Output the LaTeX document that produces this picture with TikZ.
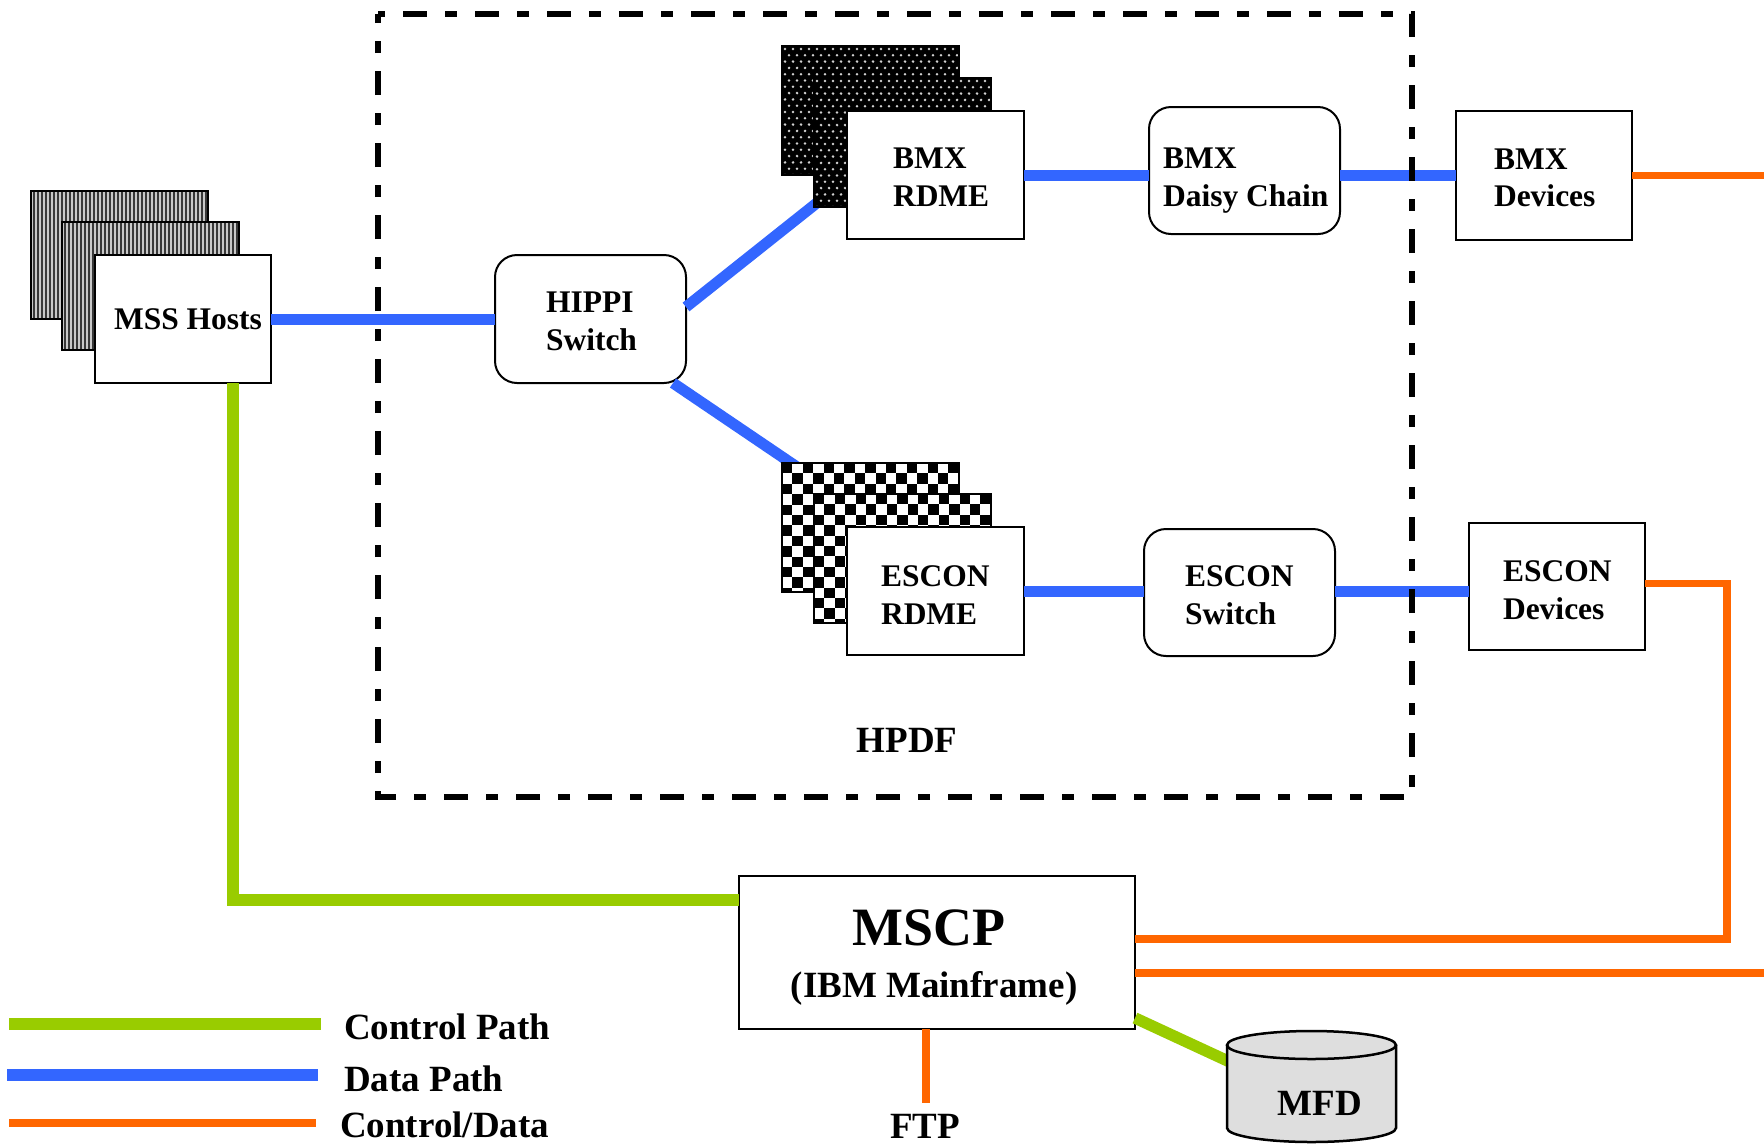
\documentclass[tikz,border=0pt]{standalone}
\usepackage{fontspec}
\setmainfont{Liberation Serif}
\usetikzlibrary{calc}
\definecolor{dblue}{HTML}{3366FF}
\definecolor{cgreen}{HTML}{99CC00}
\definecolor{corange}{HTML}{FF6600}
\definecolor{mfdgray}{HTML}{DEDEDE}
\definecolor{stripedark}{HTML}{383838}
\definecolor{stripelight}{HTML}{C8C8C8}
\definecolor{dotlight}{HTML}{D0D0D0}
\begin{document}
\begin{tikzpicture}[x=1pt,y=-1pt,
  box/.style={draw, line width=2pt, fill=white, inner sep=0pt, outer sep=0pt},
  rbox/.style={box, rounded corners=22pt},
  boxtext/.style={inner sep=0pt, outer sep=0pt, align=left, anchor=north west,
    font=\bfseries\fontsize{31.5}{37.5}\selectfont},
  datap/.style={draw=dblue, line width=11pt},
  ctrlp/.style={draw=cgreen, line width=11.5pt},
  cdp/.style={draw=corange, line width=7.5pt},
  lbl/.style={inner sep=0pt, font=\bfseries\fontsize{37}{44}\selectfont},
  stackedge/.style={draw, line width=2.5pt},
  hpdfbox/.style={draw, line width=6pt, dash pattern=on 24pt off 18pt on 12pt off 18pt, dash phase=47pt}
]
\useasboundingbox (0,0) rectangle (1764,1144);

% HIPPI switch first (its lines run under the RDME stacks)
\node[rbox, minimum width=191pt, minimum height=128pt] (hippi) at (590.5,319) {};
\node[boxtext] (hippit) at (546,292) {HIPPI\\Switch};
\coordinate (bmxback) at (830,192.5);
\coordinate (escback) at (800,469);
\draw[datap] ([yshift=12pt]hippi.east) -- (bmxback);
\draw[datap] ([xshift=-13pt]hippi.south east) -- (escback);

% MSS Hosts stack (vertical stripes)
\foreach \ax/\ay in {31/191, 62/222}{
  \begin{scope}
    \clip (\ax,\ay) rectangle ++(177,128);
    \fill[stripedark] (\ax,\ay) rectangle ++(177,128);
    \foreach \k in {0,...,44} \draw[stripelight, line width=1.6pt] (\ax+1+\k*4,\ay) -- ++(0,128);
  \end{scope}
  \draw[stackedge] (\ax,\ay) rectangle ++(177,128);
}
\node[box, minimum width=176pt, minimum height=128pt] (mss) at (183,319) {};
\node[inner sep=0pt, anchor=base, font=\bfseries\fontsize{31.5}{37.5}\selectfont] (msst) at (188,329) {MSS Hosts};

% BMX RDME stack (dots)
\foreach \ax/\ay in {782/46, 814/78}{
  \begin{scope}
    \clip (\ax,\ay) rectangle ++(177,129);
    \fill[black] (\ax,\ay) rectangle ++(177,129);
    \foreach \j in {0,...,20}{
      \pgfmathsetmacro{\off}{mod(\j,2)*4}
      \foreach \i in {0,...,22}{
        \fill[dotlight] (\ax+3+\off+\i*8, \ay+3+\j*6.3) circle (1.4pt);
      }
    }
  \end{scope}
  \draw[stackedge] (\ax,\ay) rectangle ++(177,129);
}
\node[box, minimum width=177pt, minimum height=128pt] (bmxr) at (935.5,175) {};
\node[boxtext] (bmxrt) at (893,148) {BMX\\RDME};

% ESCON RDME stack (checkerboard)
\foreach \ax/\ay in {782/463, 814/494}{
  \begin{scope}
    \clip (\ax,\ay) rectangle ++(177,129);
    \fill[white] (\ax,\ay) rectangle ++(177,129);
    \foreach \j in {0,...,12}{
      \pgfmathsetmacro{\off}{mod(\j,2)*10.4}
      \foreach \i in {0,...,8}{
        \fill[black] (\ax+\off+\i*20.8, \ay+\j*10.4) rectangle ++(10.4,10.4);
      }
    }
  \end{scope}
  \draw[stackedge] (\ax,\ay) rectangle ++(177,129);
}
\node[box, minimum width=177pt, minimum height=128pt] (escr) at (935.5,591) {};
\node[boxtext] (escrt) at (881,566) {ESCON\\RDME};

% other boxes
\node[rbox, minimum width=191pt, minimum height=127pt] (daisy) at (1244.5,170.5) {};
\node[boxtext] (daisyt) at (1163,148) {BMX\\Daisy Chain};
\node[box, minimum width=176pt, minimum height=129pt] (bmxdev) at (1544,175.5) {};
\node[boxtext] (bmxdevt) at (1494,148.5) {BMX\\Devices};
\node[rbox, minimum width=191pt, minimum height=127pt] (escsw) at (1239.5,592.5) {};
\node[boxtext] (escswt) at (1185,566) {ESCON\\Switch};
\node[box, minimum width=176pt, minimum height=127pt] (escdev) at (1557,586.5) {};
\node[boxtext] (escdevt) at (1503,561) {ESCON\\Devices};
\node[box, minimum width=396pt, minimum height=153pt] (mscp) at (937,952.5) {};
\node[anchor=base, inner sep=0pt, font=\bfseries\fontsize{54}{60}\selectfont] (mscpname) at (929,945) {MSCP};
\node[lbl, anchor=base] (mscpsub) at (934,997) {(IBM Mainframe)};

% data path connectors
\draw[datap] (mss.east) -- (hippi.west);
\draw[datap] (bmxr.east) -- (bmxr.east -| daisy.west);
\draw[datap] (daisy.east |- bmxr.east) -- (bmxdev.west |- bmxr.east);
\draw[datap] (escr.east) -- (escr.east -| escsw.west);
\draw[datap] (escsw.east |- escr.east) -- (escdev.west |- escr.east);

% control/data connectors
\coordinate (redge1) at (1764,175.5);
\coordinate (ebend) at (1727,939);
\coordinate (redge2) at (1764,973);
\coordinate (ftpend) at (926,1103);
\draw[cdp] (bmxdev.east) -- (redge1);
\draw[cdp, line join=miter] ([yshift=3pt]escdev.east) -| (ebend) -- (ebend -| mscp.east);
\draw[cdp] (mscp.east |- redge2) -- (redge2);
\draw[cdp] (mscp.south -| ftpend) -- (ftpend);

% control path connectors
\coordinate (gbend) at (233,900);
\coordinate (mfdw) at (1230,1062);
\draw[ctrlp, line join=miter] (mss.south -| gbend) -- (gbend) -- (gbend -| mscp.west);
\draw[ctrlp] (mscp.east |- 0,1018) -- (mfdw);

% MFD cylinder
\fill[mfdgray] (1227,1045) -- (1227,1128) arc[start angle=180, end angle=360, x radius=84.5pt, y radius=14pt]
  -- (1396,1045) arc[start angle=0, end angle=180, x radius=84.5pt, y radius=14pt] -- cycle;
\draw[line width=2.5pt] (1227,1045) -- (1227,1128) arc[start angle=180, end angle=360, x radius=84.5pt, y radius=14pt]
  -- (1396,1045);
\draw[line width=2.5pt] (1311.5,1045) ellipse [x radius=84.5pt, y radius=14pt];
\node[lbl, anchor=base] (mfd) at (1320,1115) {MFD};

% labels
\node[lbl, anchor=base] (ftp) at (925,1138) {FTP};
\node[lbl, anchor=base] (hpdf) at (907,752) {HPDF};

% HPDF dashed boundary
\draw[hpdfbox] (378,14) -- (1412,14) -- (1412,797) -- (378,797) -- cycle;

% legend
\coordinate (lg1a) at (9,1024);   \coordinate (lg1b) at (321,1024);
\coordinate (lg2a) at (7,1075);   \coordinate (lg2b) at (318,1075);
\coordinate (lg3a) at (9,1123);   \coordinate (lg3b) at (316,1123);
\draw[draw=cgreen, line width=12pt] (lg1a) -- (lg1b);
\draw[draw=dblue, line width=12pt] (lg2a) -- (lg2b);
\draw[draw=corange, line width=8pt] (lg3a) -- (lg3b);
\node[lbl, anchor=base west] (lgt1) at (344,1039) {Control Path};
\node[lbl, anchor=base west] (lgt2) at (344,1091) {Data Path};
\node[lbl, anchor=base west] (lgt3) at (340,1137) {Control/Data};
\end{tikzpicture}
\end{document}
